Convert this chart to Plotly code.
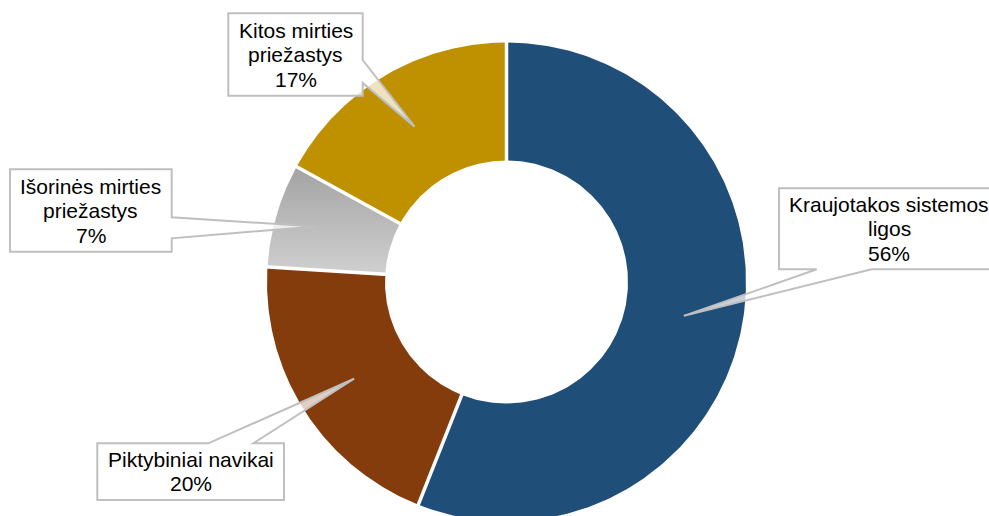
import numpy as np
import plotly.graph_objects as go

# Structure of deaths by cause (%)
categories = [
    "Kraujotakos sistemos ligos",
    "Piktybiniai navikai",
    "Išorinės mirties priežastys",
    "Kitos mirties priežastys",
]
shares = [56, 20, 7, 17]
label_lines = [
    ["Kraujotakos sistemos", "ligos"],
    ["Piktybiniai navikai"],
    ["Išorinės mirties", "priežastys"],
    ["Kitos mirties", "priežastys"],
]

# ---- styling / layout constants (pixel-like axis units) ----
W, H = 989, 516
CX, CY = 506.5, 282.0
R_OUT, R_IN = 239.5, 121.5
FILL = ["#1F4E79", "#843C0C", None, "#BF9000"]
# vertical gradient for the grey slice: light at the bottom, darker at the top
GRAY_SCALE = [[0, "#D0D0D0"], [1, "#A3A3A3"]]
FONT = "Liberation Sans, Arial, sans-serif"
FONT_SIZE = 21
LINE_STEP = 24.5

# callout boxes: left, top, right, bottom, edge carrying the pointer,
# pointer base span, and radius at which the pointer tip sits
R_MID = (R_IN + R_OUT) / 2
boxes = [
    dict(l=779, t=188.3, r=999, b=269.3, edge="bottom", base=(816.7, 871.7), tip_r=R_MID),
    dict(l=97.3, t=443.3, r=284, b=500, edge="top", base=(208.3, 253.3), tip_r=R_MID),
    dict(l=10, t=169.3, r=171.7, b=251.7, edge="right", base=(217.3, 238.3), tip_r=199),
    dict(l=228.3, t=13.3, r=362.7, b=95.7, edge="right", base=(60, 83), tip_r=R_MID),
]


def arc(r, a0, a1, n=240):
    a = np.radians(np.linspace(a0, a1, n))
    return CX + r * np.sin(a), CY - r * np.cos(a)


total = float(sum(shares))
bounds = np.concatenate([[0.0], np.cumsum(shares)]) / total * 360.0

fig = go.Figure()

for i, cat in enumerate(categories):
    a0, a1 = bounds[i], bounds[i + 1]
    xo, yo = arc(R_OUT, a0, a1)
    xi, yi = arc(R_IN, a1, a0)
    xs = np.concatenate([xo, xi, xo[:1]])
    ys = np.concatenate([yo, yi, yo[:1]])
    kw = dict(
        x=xs, y=ys, mode="lines", fill="toself", name=cat,
        line=dict(width=0), hoverinfo="skip", showlegend=False,
    )
    if FILL[i] is None:
        kw["fillgradient"] = dict(type="vertical", colorscale=GRAY_SCALE)
    else:
        kw["fillcolor"] = FILL[i]
    fig.add_trace(go.Scatter(**kw))

# white separators between slices
sx, sy = [], []
for a in bounds[:-1]:
    x, y = arc(R_IN - 3, a, a, 1)
    x2, y2 = arc(R_OUT + 3, a, a, 1)
    sx += [x[0], x2[0], None]
    sy += [y[0], y2[0], None]
fig.add_trace(go.Scatter(x=sx, y=sy, mode="lines", line=dict(color="white", width=3.5),
                         hoverinfo="skip", showlegend=False))

shapes = []
annotations = []
for i, bx in enumerate(boxes):
    am = (bounds[i] + bounds[i + 1]) / 2
    tx, ty = arc(bx["tip_r"], am, am, 1)
    tx, ty = tx[0], ty[0]
    l, t, r, b = bx["l"], bx["t"], bx["r"], bx["b"]
    p0, p1 = bx["base"]
    if bx["edge"] == "right":
        pts = [(l, t), (r, t), (r, p0), (tx, ty), (r, p1), (r, b), (l, b)]
    elif bx["edge"] == "bottom":
        pts = [(l, t), (r, t), (r, b), (p1, b), (tx, ty), (p0, b), (l, b)]
    else:
        pts = [(l, t), (p0, t), (tx, ty), (p1, t), (r, t), (r, b), (l, b)]
    path = "M " + " L ".join(f"{px:.2f},{py:.2f}" for px, py in pts) + " Z"
    shapes.append(dict(type="path", xref="x", yref="y", path=path,
                       fillcolor="rgba(255,255,255,0.75)",
                       line=dict(color="#BFBFBF", width=2)))
    lines = label_lines[i] + [f"{shares[i]}%"]
    cy = (t + b) / 2
    cx = (l + r) / 2
    for k, txt in enumerate(lines):
        yk = cy + (k - (len(lines) - 1) / 2) * LINE_STEP
        annotations.append(dict(x=cx, y=yk, xref="x", yref="y", text=txt,
                                showarrow=False, xanchor="center", yanchor="middle",
                                font=dict(family=FONT, size=FONT_SIZE, color="#000000")))

fig.update_layout(
    width=W, height=H,
    margin=dict(l=0, r=0, t=0, b=0),
    paper_bgcolor="white", plot_bgcolor="white",
    xaxis=dict(range=[0, W], visible=False, fixedrange=True),
    yaxis=dict(range=[H, 0], visible=False, fixedrange=True),
    shapes=shapes, annotations=annotations,
    showlegend=False,
)

fig.write_html("out.html")
